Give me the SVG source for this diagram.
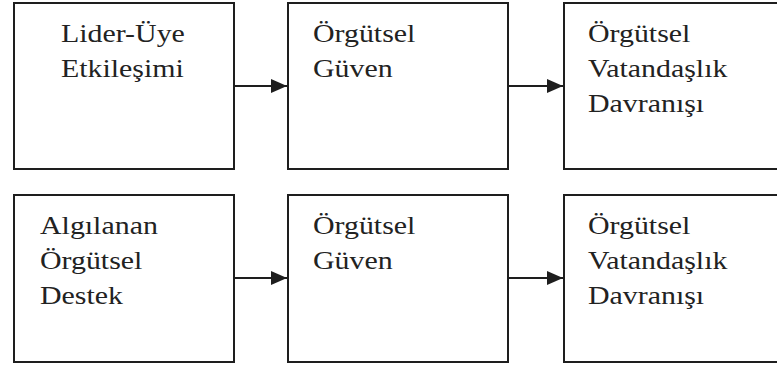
<svg xmlns="http://www.w3.org/2000/svg" width="777" height="367" viewBox="0 0 777 367">
<style>
.box{fill:#ffffff;stroke:#1e1e1e;stroke-width:2}
.t{font-family:"Liberation Serif","Times New Roman",serif;font-size:26px;fill:#222222}
.c{stroke:#1e1e1e;stroke-width:2;fill:none}
</style>
<defs>
<marker id="ah" markerWidth="8" markerHeight="7" refX="8" refY="3.5" orient="auto" markerUnits="strokeWidth">
<path d="M0,0 L8,3.5 L0,7 Z" fill="#1e1e1e"/>
</marker>
</defs>
<rect width="777" height="367" fill="#ffffff"/>
<g id="connectors">
<line class="c" x1="234" y1="86" x2="287" y2="86" marker-end="url(#ah)"/>
<line class="c" x1="508" y1="86" x2="563" y2="86" marker-end="url(#ah)"/>
<line class="c" x1="234" y1="278" x2="287" y2="278" marker-end="url(#ah)"/>
<line class="c" x1="508" y1="278" x2="563" y2="278" marker-end="url(#ah)"/>
</g>
<g id="n1">
<rect class="box" x="14" y="3" width="220" height="166"/>
<text class="t" transform="translate(61,42) scale(1.15,1)">Lider-Üye</text>
<text class="t" transform="translate(61,77) scale(1.15,1)">Etkileşimi</text>
</g>
<g id="n2">
<rect class="box" x="288" y="3" width="220" height="166"/>
<text class="t" transform="translate(313,42) scale(1.15,1)">Örgütsel</text>
<text class="t" transform="translate(313,77) scale(1.15,1)">Güven</text>
</g>
<g id="n3">
<rect class="box" x="564" y="3" width="220" height="166"/>
<text class="t" transform="translate(588,42) scale(1.15,1)">Örgütsel</text>
<text class="t" transform="translate(588,77) scale(1.15,1)">Vatandaşlık</text>
<text class="t" transform="translate(588,112) scale(1.15,1)">Davranışı</text>
</g>
<g id="n4">
<rect class="box" x="14" y="195" width="220" height="167"/>
<text class="t" transform="translate(40,234) scale(1.15,1)">Algılanan</text>
<text class="t" transform="translate(40,269) scale(1.15,1)">Örgütsel</text>
<text class="t" transform="translate(40,304) scale(1.15,1)">Destek</text>
</g>
<g id="n5">
<rect class="box" x="288" y="195" width="220" height="167"/>
<text class="t" transform="translate(313,234) scale(1.15,1)">Örgütsel</text>
<text class="t" transform="translate(313,269) scale(1.15,1)">Güven</text>
</g>
<g id="n6">
<rect class="box" x="564" y="195" width="220" height="167"/>
<text class="t" transform="translate(588,234) scale(1.15,1)">Örgütsel</text>
<text class="t" transform="translate(588,269) scale(1.15,1)">Vatandaşlık</text>
<text class="t" transform="translate(588,304) scale(1.15,1)">Davranışı</text>
</g>
</svg>
